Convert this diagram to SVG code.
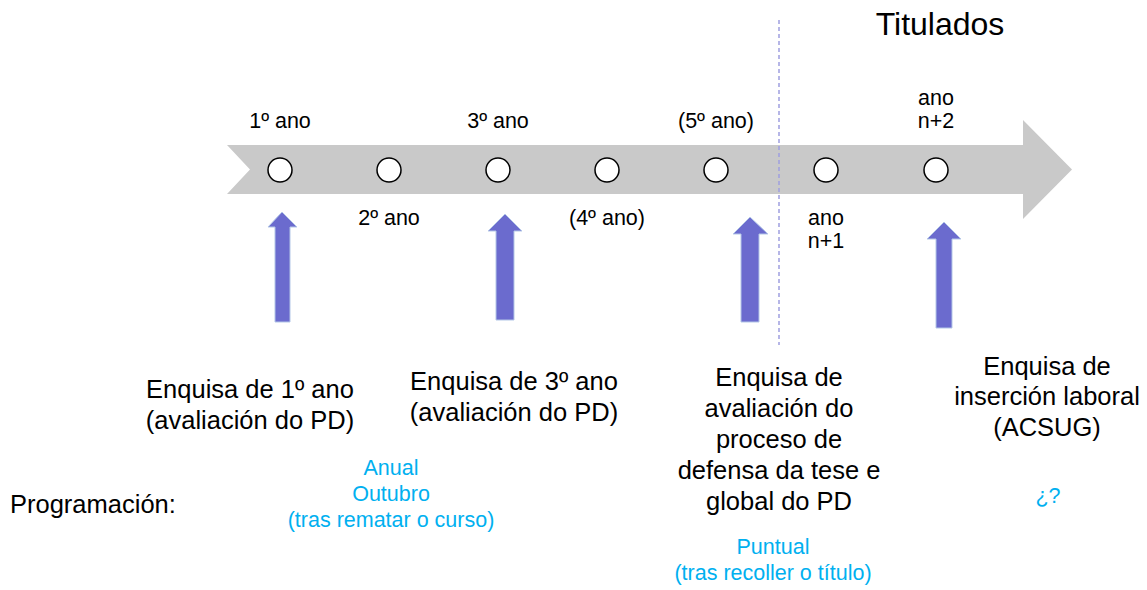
<svg xmlns="http://www.w3.org/2000/svg" width="1147" height="590" viewBox="0 0 1147 590">
<style>
text{font-family:"Liberation Sans",Arial,sans-serif;fill:#000}
.s{font-size:21.5px}
.b{font-size:25.5px}
.c{text-anchor:middle}
.blue{fill:#00b0f0;font-size:21.5px;text-anchor:middle}
.dot{fill:#fff;stroke:#000;stroke-width:1.5}
.up{fill:#6b6bce;stroke:#b4c7e7;stroke-width:1}
</style>
<rect width="1147" height="590" fill="#fff"/>
<g id="timeline">
<polygon points="227,145 1023,145 1023,120 1072,169.5 1023,219 1023,194 227,194 250,169.5" fill="#c9c9c9"/>
</g>
<g id="divider">
<line x1="779" y1="20" x2="779" y2="345" stroke="#9e9ee0" stroke-width="1.5" stroke-dasharray="4 3"/>
</g>
<g id="years">
<circle class="dot" cx="280" cy="170" r="12"/>
<circle class="dot" cx="389" cy="170" r="12"/>
<circle class="dot" cx="498" cy="170" r="12"/>
<circle class="dot" cx="607" cy="170" r="12"/>
<circle class="dot" cx="716" cy="170" r="12"/>
<circle class="dot" cx="826" cy="170" r="12"/>
<circle class="dot" cx="936" cy="170" r="12"/>
<text class="s c" x="280" y="128">1º ano</text>
<text class="s c" x="389" y="225">2º ano</text>
<text class="s c" x="498" y="128">3º ano</text>
<text class="s c" x="607" y="225">(4º ano)</text>
<text class="s c" x="716" y="128">(5º ano)</text>
<text class="s c" x="826" y="225">ano</text>
<text class="s c" x="826" y="248">n+1</text>
<text class="s c" x="936" y="105">ano</text>
<text class="s c" x="936" y="128">n+2</text>
</g>
<text x="940" y="35" font-size="32" text-anchor="middle">Titulados</text>
<g id="connectors">
<polygon class="up" points="282,212 297,227 290,227 290,322 275,322 275,227 268,227"/>
<polygon class="up" points="505,214 522,231 514,231 514,320 496,320 496,231 488,231"/>
<polygon class="up" points="750,217 768,234 759,234 759,322 741,322 741,234 733,234"/>
<polygon class="up" points="944,222 961,239 952,239 952,328 936,328 936,239 927,239"/>
</g>
<g id="survey1">
<text class="b c" x="250" y="398">Enquisa de 1º ano</text>
<text class="b c" x="250" y="429">(avaliación do PD)</text>
</g>
<g id="survey3">
<text class="b c" x="514" y="390">Enquisa de 3º ano</text>
<text class="b c" x="514" y="421">(avaliación do PD)</text>
</g>
<g id="survey-defensa">
<text class="b c" x="779" y="386">Enquisa de</text>
<text class="b c" x="779" y="417">avaliación do</text>
<text class="b c" x="779" y="448">proceso de</text>
<text class="b c" x="779" y="479">defensa da tese e</text>
<text class="b c" x="779" y="510">global do PD</text>
</g>
<g id="survey-insercion">
<text class="b c" x="1047" y="375">Enquisa de</text>
<text class="b c" x="1047" y="405">inserción laboral</text>
<text class="b c" x="1047" y="436">(ACSUG)</text>
</g>
<g id="schedule">
<text class="b" x="10" y="513">Programación:</text>
<text class="blue" x="391" y="475">Anual</text>
<text class="blue" x="391" y="501">Outubro</text>
<text class="blue" x="391" y="527">(tras rematar o curso)</text>
<text class="blue" x="773" y="554">Puntual</text>
<text class="blue" x="773" y="580">(tras recoller o título)</text>
<text class="blue" x="1048" y="503">¿?</text>
</g>
</svg>
